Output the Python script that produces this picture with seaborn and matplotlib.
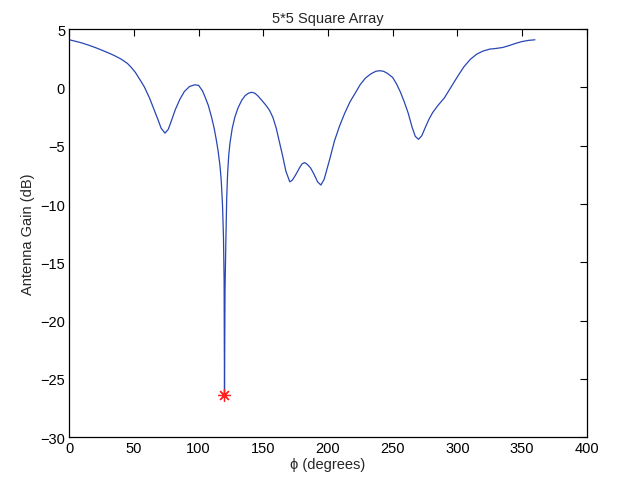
import numpy as np
import pandas as pd
import matplotlib
matplotlib.use('Agg')
import matplotlib.pyplot as plt
import seaborn as sns

# ── Données ─────────────────────────────────────────────────────────────────
phi_deg = [0, 5, 10, 15, 20, 25, 30, 35, 40, 45, 48, 51, 55, 58, 62, 65, 68.8,
           71, 74, 76.5, 79, 82, 85.6, 89, 93, 97, 100, 103, 105, 107.5, 110,
           112, 113.5, 115, 116.5, 117.5, 118.5, 119.2, 119.7, 120, 120.4, 121,
           121.7, 122.4, 123.3, 124.2, 126, 128, 130.5, 133.3, 136, 138.5, 141,
           143.5, 146, 150, 152.5, 155, 157.5, 160, 162.5, 165, 167.5, 170.5,
           172.5, 175, 178, 180, 182, 184, 186.5, 189, 192, 194.5, 197, 199,
           201.5, 205, 209, 213, 217, 221, 225, 229, 233, 237, 240, 243, 246,
           250, 253, 256, 259, 262, 265, 267.5, 270, 272.5, 275, 278, 281, 285,
           290, 295, 300, 305, 310, 315, 320, 325, 330, 335, 340, 345, 350, 355,
           360]
gain_db = [4.08, 3.95, 3.8, 3.62, 3.42, 3.2, 2.97, 2.72, 2.43, 2.05, 1.7, 1.3,
           0.6, 0.05, -0.9, -1.75, -2.83, -3.5, -3.92, -3.6, -2.85, -1.9, -1.0,
           -0.35, 0.08, 0.22, 0.17, -0.3, -0.83, -1.55, -2.55, -3.5, -4.4, -5.4,
           -6.7, -8.0, -10.2, -12.8, -16.5, -26.4, -17.5, -13.5, -9.5, -7.4,
           -5.8, -4.8, -3.5, -2.55, -1.75, -1.11, -0.7, -0.5, -0.42, -0.5, -0.75,
           -1.26, -1.6, -2.0, -2.6, -3.5, -4.7, -5.9, -7.2, -8.1, -7.95, -7.5,
           -6.9, -6.55, -6.45, -6.6, -6.9, -7.4, -8.1, -8.37, -7.9, -7.1, -6.1,
           -4.6, -3.3, -2.2, -1.25, -0.5, 0.25, 0.8, 1.15, 1.38, 1.43, 1.38,
           1.2, 0.85, 0.3, -0.4, -1.25, -2.2, -3.4, -4.2, -4.45, -4.15, -3.5,
           -2.75, -2.15, -1.55, -0.9, 0.0, 0.9, 1.75, 2.4, 2.85, 3.12, 3.28,
           3.34, 3.42, 3.58, 3.77, 3.93, 4.03, 4.08]
null_phi = [120]
null_gain = [-26.4]

df = pd.DataFrame({'phi': phi_deg, 'gain': gain_db})

sns.set_style('white')
plt.rcParams['font.family'] = ['Liberation Sans', 'DejaVu Sans']

fig = plt.figure(figsize=(6.18, 4.85), dpi=100)
ax = fig.add_axes([0.1121, 0.0963, 0.8372, 0.8417])

sns.lineplot(data=df, x='phi', y='gain', ax=ax, color='#2846b4', linewidth=0.9,
             sort=False, estimator=None)
# marqueur du zéro (astérisque façon MATLAB)
ax.plot(null_phi, null_gain, marker=(8, 2, 0), color='#ff2020', markersize=9,
        linestyle='none', markeredgewidth=0.9)

ax.set_xlim(0, 400)
ax.set_ylim(-30, 5)
ax.set_xticks(np.arange(0, 401, 50))
ax.set_yticks(np.arange(-30, 6, 5))
ax.tick_params(direction='in', length=5, width=0.8, top=True, right=True,
               labelsize=10.5, colors='black', pad=3)
for s in ax.spines.values():
    s.set_color('black')
    s.set_linewidth(0.9)

ax.set_xlabel('ϕ (degrees)', fontsize=10.5, labelpad=1)
ax.set_ylabel('Antenna Gain (dB)', fontsize=10.5, labelpad=4)
ax.set_title('5*5 Square Array', fontsize=10.5, pad=5)

plt.savefig('out.png', dpi=100)
plt.close()
